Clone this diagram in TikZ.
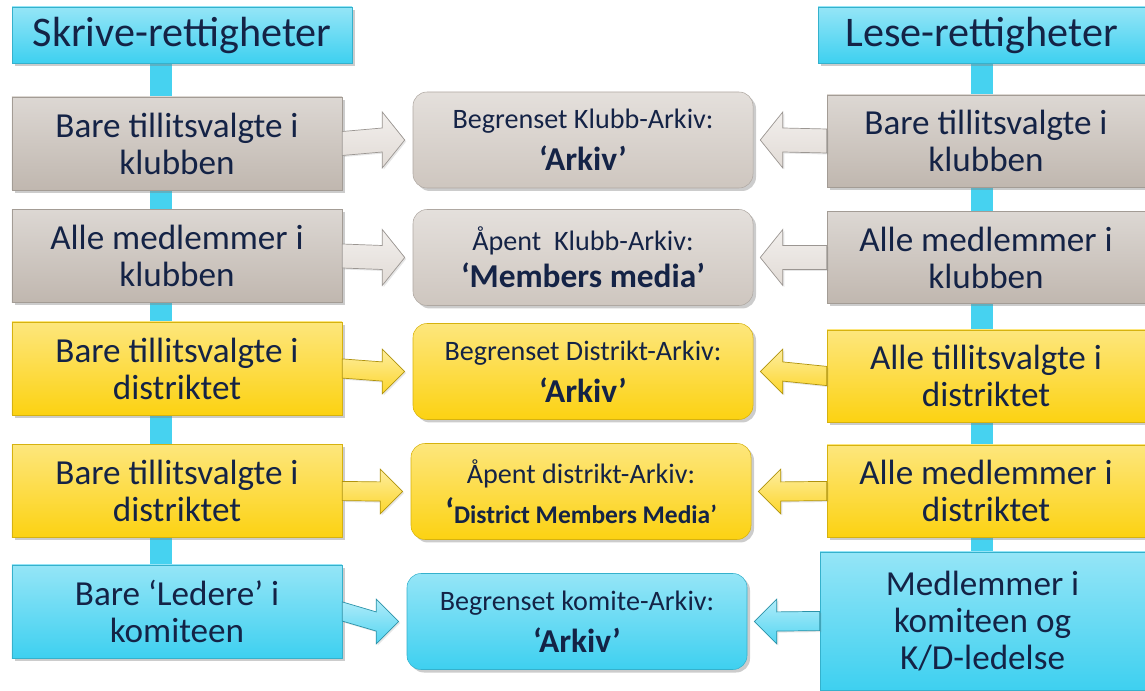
\documentclass[tikz,border=0pt]{standalone}
\usepackage{fontspec}
\setmainfont{Carlito}
\usetikzlibrary{calc,shadows,positioning,backgrounds}
\definecolor{navy}{RGB}{20,35,70}
\definecolor{kgrey}{RGB}{192,183,175}
\definecolor{mgrey}{RGB}{206,198,191}
\definecolor{agrey}{RGB}{222,215,209}
\definecolor{kyel}{RGB}{252,210,18}
\definecolor{kcya}{RGB}{62,208,240}
\definecolor{barc}{RGB}{70,210,240}
\newcommand{\archname}[1]{{\bfseries\fontsize{19}{20}\selectfont #1}}
\tikzset{box/.style={draw=#1!85!black, line width=0.3pt, top color=#1!55!white, bottom color=#1, text=navy, align=center, inner sep=0,
    drop shadow={shadow xshift=0.6mm, shadow yshift=-0.6mm, opacity=0.4}},
  ttl/.style={box=kcya, minimum height=1.12cm, font=\fontsize{24}{28}\selectfont},
  lft/.style={box=#1, minimum width=6.6cm, minimum height=1.86cm, font=\fontsize{20}{21}\selectfont},
  rgt/.style={box=#1, minimum width=6.36cm, minimum height=1.84cm, font=\fontsize{20}{21}\selectfont},
  mid/.style={box=#1, rounded corners=0.28cm, minimum width=6.8cm, minimum height=1.92cm, font=\fontsize{16}{21}\selectfont},
  spine/.style={draw=barc, line width=0.44cm},
  arr/.style={draw=#1!70!black, line width=0.4pt, top color=#1!40!white, bottom color=#1!90!white,
    drop shadow={shadow xshift=0.3mm, shadow yshift=-0.3mm, opacity=0.2}},
  barrow/.style 2 args={to path={
    ($(\tikztostart)+(0,{0.24*#2})$) -- ($(\tikztotarget)+({0-(#1)*0.45},{0.24*#2})$)
    -- ($(\tikztotarget)+({0-(#1)*0.45},{0.56*#2})$) -- (\tikztotarget)
    -- ($(\tikztotarget)+({0-(#1)*0.45},{-0.56*#2})$) -- ($(\tikztotarget)+({0-(#1)*0.45},{-0.24*#2})$)
    -- ($(\tikztostart)+(0,{-0.24*#2})$) -- cycle}}}

\begin{document}
\begin{tikzpicture}
    \useasboundingbox (0,0) rectangle (22.9,13.8);

    \node[ttl, minimum width=6.8cm] (skr) at (3.64,13.1) {Skrive-rettigheter};
    \node[ttl, minimum width=6.54cm] (les) at (19.63,13.1) {Lese-rettigheter};

    % write side
    \node[lft=kgrey] (l1) at (3.54,10.93) {Bare tillitsvalgte i\\klubben};
    \node[lft=kgrey] (l2) at (3.54,8.68) {Alle medlemmer i\\klubben};
    \node[lft=kyel] (l3) at (3.54,6.43) {Bare tillitsvalgte i\\distriktet};
    \node[lft=kyel] (l4) at (3.54,3.98) {Bare tillitsvalgte i\\distriktet};
    \node[lft=kcya] (l5) at (3.54,1.57) {Bare ‘Ledere’ i\\komiteen};

    % read side
    \node[rgt=kgrey] (r1) at (19.72,10.98) {Bare tillitsvalgte i\\klubben};
    \node[rgt=kgrey] (r2) at (19.72,8.65) {Alle medlemmer i\\klubben};
    \node[rgt=kyel] (r3) at (19.72,6.28) {Alle tillitsvalgte i\\distriktet};
    \node[rgt=kyel] (r4) at (19.72,3.98) {Alle medlemmer i\\distriktet};
    \node[rgt=kcya, minimum width=6.5cm, minimum height=2.76cm] (r5) at (19.65,1.38) {Medlemmer i\\komiteen og\\K/D-ledelse};

    % archives
    \node[mid=mgrey] (m1) at (11.66,11.0) {Begrenset Klubb-Arkiv:\\[3pt]\archname{‘Arkiv’}};
    \node[mid=mgrey] (m2) at (11.66,8.65) {Åpent\ \ Klubb-Arkiv:\\\archname{‘Members media’}};
    \node[mid=kyel] (m3) at (11.66,6.37) {Begrenset Distrikt-Arkiv:\\[3pt]\archname{‘Arkiv’}};
    \node[mid=kyel] (m4) at (11.62,3.97) {Åpent distrikt-Arkiv:\\[2pt]{\bfseries\fontsize{14.5}{19}\selectfont{\fontsize{20}{19}\selectfont ‘}District Members Media’}};
    \node[mid=kcya] (m5) at (11.54,1.37) {Begrenset komite-Arkiv:\\[3pt]\archname{‘Arkiv’}};

    \begin{scope}[on background layer]
      \draw[spine] ([xshift=-4.2mm]skr.center) -- ([xshift=-4.2mm]skr.center |- l5.north);
      \draw[spine] (les.center) -- (les.center |- r5.north);
    \end{scope}

    \foreach \i/\f/\col in {1/1/agrey,2/1/agrey,3/0.8/kyel,4/0.8/kyel,5/0.8/kcya}{
      \draw[arr=\col] (l\i.east) to[barrow={1}{\f}] ([xshift=-1.6mm]m\i.west);
      \draw[arr=\col] (r\i.west) to[barrow={-1}{\f}] ([xshift=1.4mm]m\i.east);
    }
\end{tikzpicture}
\end{document}
